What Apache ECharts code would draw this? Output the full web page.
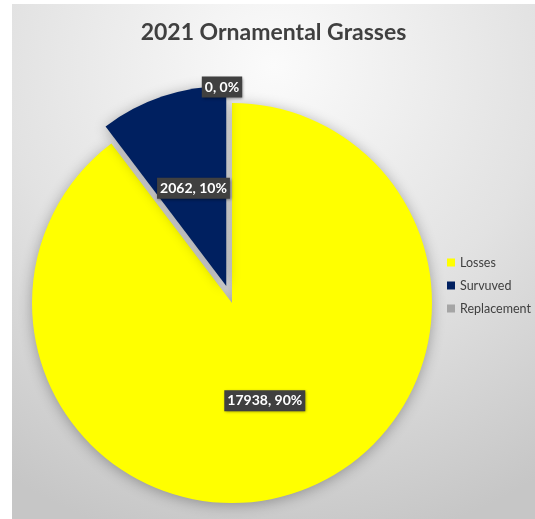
<!DOCTYPE html>
<html>
<head>
<meta charset="utf-8">
<script src="https://cdn.jsdelivr.net/npm/echarts@6/dist/echarts.min.js"></script>
<style>
html,body{margin:0;padding:0;background:#ffffff;width:535px;height:519px;overflow:hidden;}
#chart{position:absolute;left:12px;top:4px;width:523px;height:515px;}
</style>
</head>
<body>
<div id="chart"></div>
<script>
const titleText = '2021 Ornamental Grasses';
const categories = ['Losses', 'Survuved', 'Replacement'];
const values = [17938, 2062, 0];
const colors = ['#FFFF00', '#002060', '#A5A5A5'];
const explodedIndex = 1;
const zeroIndex = 2;

const chart = echarts.init(document.getElementById('chart'), null, {renderer: 'canvas'});

const data = categories.map((name, i) => {
  const item = {
    name: name,
    value: values[i],
    itemStyle: {color: colors[i]},
    select: {itemStyle: {color: colors[i], borderWidth: 0}}
  };
  if (i === explodedIndex) item.selected = true;
  if (i === zeroIndex) {
    item.label = {position: 'outside'};
    item.labelLine = {show: false, length: 16, length2: 0};
  }
  return item;
});

chart.setOption({
  backgroundColor: new echarts.graphic.RadialGradient(0.5, 0.12, 0.95, [
    {offset: 0, color: '#fbfbfb'},
    {offset: 0.55, color: '#e2e2e2'},
    {offset: 1, color: '#c6c6c6'}
  ]),
  animation: false,
  title: {
    text: titleText,
    left: 'center',
    top: 12,
    textStyle: {fontFamily: 'Lato', fontWeight: 'bold', fontSize: 23, color: '#404040'}
  },
  legend: {
    orient: 'vertical',
    left: 430,
    top: 247,
    itemWidth: 8,
    itemHeight: 8,
    itemGap: 10,
    icon: 'rect',
    data: categories,
    selectedMode: false,
    textStyle: {fontFamily: 'Lato', fontSize: 12.5, color: '#404040'}
  },
  series: [{
    type: 'pie',
    center: [220, 299],
    radius: [0, 200],
    startAngle: 90,
    clockwise: true,
    selectedMode: 'single',
    selectedOffset: 18,
    avoidLabelOverlap: false,
    emphasis: {disabled: true},
    itemStyle: {
      borderWidth: 0,
      shadowBlur: 14,
      shadowColor: 'rgba(0,0,0,0.3)',
      shadowOffsetY: 2
    },
    label: {
      show: true,
      position: 'inside',
      formatter: p => p.value + ', ' + Math.round(p.percent) + '%',
      fontFamily: 'Lato',
      fontWeight: 'bold',
      fontSize: 14,
      color: '#ffffff',
      backgroundColor: '#404040',
      padding: [4, 3, 3, 3],
      shadowBlur: 3,
      shadowColor: 'rgba(0,0,0,0.45)',
      shadowOffsetX: 1,
      shadowOffsetY: 1
    },
    labelLine: {show: false},
    labelLayout: p => (p.dataIndex === zeroIndex ? {align: 'center', dx: -5} : {}),
    data: data
  }]
});
</script>
</body>
</html>
